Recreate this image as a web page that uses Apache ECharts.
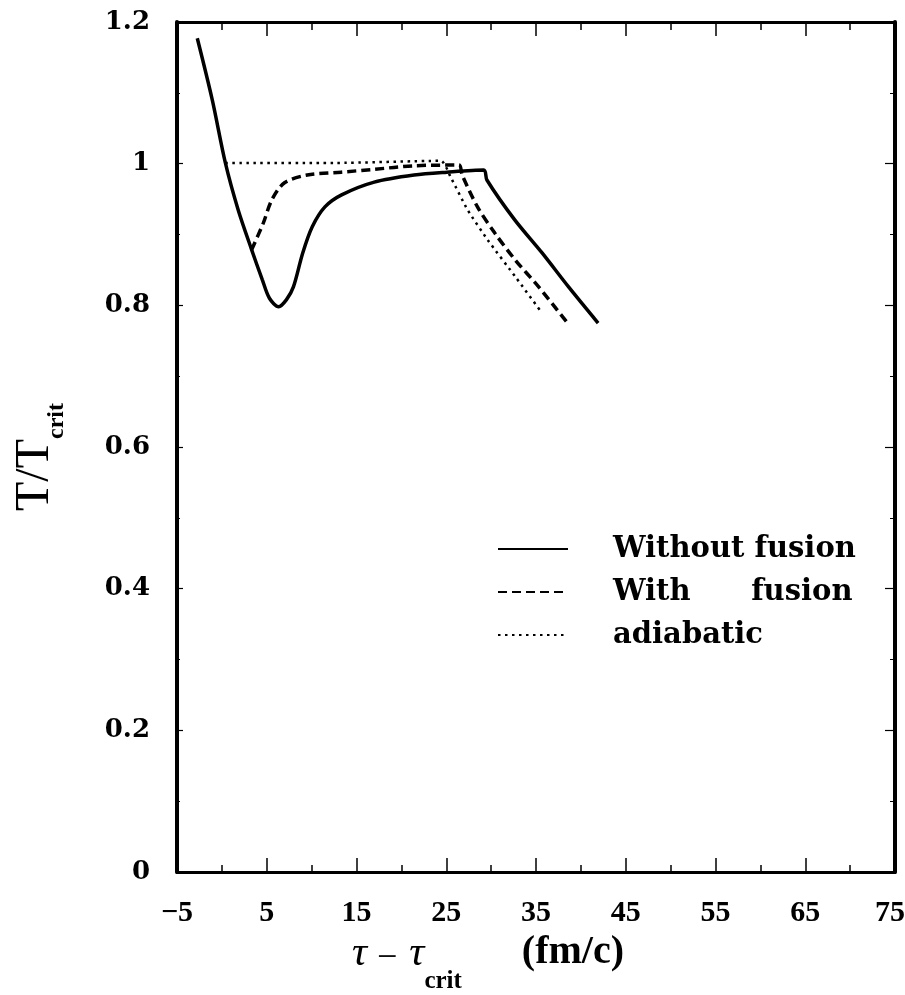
<!DOCTYPE html>
<html>
<head>
<meta charset="utf-8">
<script src="https://cdn.jsdelivr.net/npm/echarts@6/dist/echarts.min.js"></script>
<style>
    html, body { margin: 0; padding: 0; background: #fff; }
    #chart { width: 905px; height: 995px; }
</style>
</head>
<body>
<div id="chart"></div>
<script>
    // [tau - tau_crit (fm/c), T/T_crit]
    const withoutFusion = [
        [-2.74, 1.177], [-1.07, 1.090], [0.39, 1.001], [1.81, 0.935], [3.33, 0.878],
        [4.51, 0.836], [5.30, 0.810], [6.33, 0.798], [7.20, 0.808], [7.97, 0.826],
        [9.01, 0.874], [10.07, 0.911], [11.48, 0.939], [13.34, 0.956], [16.98, 0.974],
        [21.41, 0.984], [25.07, 0.988], [29.18, 0.991], [29.53, 0.977], [32.61, 0.921],
        [35.68, 0.874], [38.63, 0.826], [41.92, 0.775]
    ];
    const withFusion = [
        [3.30, 0.878], [4.61, 0.916], [5.57, 0.949], [6.98, 0.973], [9.52, 0.984],
        [13.29, 0.988], [16.96, 0.992], [21.40, 0.997], [26.40, 0.998], [26.77, 0.984],
        [28.48, 0.939], [30.41, 0.902], [32.69, 0.864], [35.30, 0.826], [38.70, 0.772]
    ];
    const adiabatic = [
        [0.40, 1.001], [12.50, 1.001], [24.39, 1.004], [25.53, 0.980], [27.37, 0.935],
        [29.64, 0.892], [32.72, 0.840], [35.57, 0.791]
    ];
    const seriesNames = ['Without fusion', 'With      fusion', 'adiabatic'];

    const tickFont = {fontFamily: 'Liberation Serif', fontWeight: 'bold', fontSize: 30, color: '#000'};
    const frame = {show: true, onZero: false, lineStyle: {color: '#000', width: 3}};

    let option = {
        animation: false,
        backgroundColor: '#fff',
        color: ['#000'],
        grid: {left: 177, right: 10, top: 22, bottom: 123, containLabel: false, outerBoundsMode: 'none'},
        legend: {
            orient: 'vertical',
            left: 492, top: 527,
            itemWidth: 70, itemHeight: 14, itemGap: 9,
            itemStyle: {opacity: 0},
            textStyle: {
                fontFamily: 'DejaVu Serif', fontWeight: 'bold', fontSize: 29, color: '#000',
                lineHeight: 34, padding: [0, 0, 0, 40]
            },
            data: seriesNames
        },
        xAxis: [
            {
                type: 'value', position: 'bottom',
                min: -5, max: 75, interval: 10,
                name: '{t|τ}{m|−}{t|τ}{sub|crit}{gap|}{u|(fm/c)}',
                nameLocation: 'middle', nameGap: 60,
                nameTextStyle: {
                    padding: [0, 96, 0, 0],
                    rich: {
                        t: {fontFamily: 'Liberation Serif', fontStyle: 'italic', fontSize: 42, lineHeight: 36, verticalAlign: 'top', color: '#000'},
                        m: {fontFamily: 'Liberation Serif', fontSize: 36, lineHeight: 30, padding: [8, 12, 0, 10], verticalAlign: 'top', color: '#000'},
                        sub: {fontFamily: 'Liberation Serif', fontWeight: 'bold', fontSize: 25, lineHeight: 24, padding: [36, 0, 0, 0], verticalAlign: 'top', color: '#000'},
                        gap: {width: 60, lineHeight: 36, verticalAlign: 'top'},
                        u: {fontFamily: 'Liberation Serif', fontWeight: 'bold', fontSize: 40, lineHeight: 36, verticalAlign: 'top', color: '#000'}
                    }
                },
                axisLine: frame,
                axisTick: {inside: true, length: 14, lineStyle: {color: '#000', width: 1.5}},
                minorTick: {show: true, splitNumber: 2, length: 7, lineStyle: {color: '#000', width: 1.5}},
                splitLine: {show: false},
                axisLabel: Object.assign({
                    margin: 26,
                    formatter: v => v === 75 ? '{last|75}' : String(v).replace('-', '−'),
                    rich: {last: Object.assign({padding: [0, 10, 0, 0]}, tickFont)}
                }, tickFont)
            },
            {
                type: 'value', position: 'top',
                min: -5, max: 75, interval: 10,
                axisLine: frame,
                axisTick: {inside: true, length: 14, lineStyle: {color: '#000', width: 1.5}},
                minorTick: {show: true, splitNumber: 2, length: 8, lineStyle: {color: '#000', width: 1.5}},
                splitLine: {show: false},
                axisLabel: {show: false}
            }
        ],
        yAxis: [
            {
                type: 'value', position: 'left',
                min: 0, max: 1.2, interval: 0.2,
                name: '{t|T/T}{sub|crit}',
                nameLocation: 'middle', nameRotate: 90, nameGap: 118,
                nameTextStyle: {
                    padding: [0, 20, 0, 0],
                    rich: {
                        t: {fontFamily: 'Liberation Serif', fontSize: 48, lineHeight: 48, verticalAlign: 'top', color: '#000'},
                        sub: {fontFamily: 'Liberation Serif', fontWeight: 'bold', fontSize: 24, lineHeight: 24, padding: [34, 0, 0, 0], verticalAlign: 'top', color: '#000'}
                    }
                },
                axisLine: {show: true, onZero: false, lineStyle: {color: '#000', width: 4}},
                axisTick: {inside: true, length: 6, lineStyle: {color: '#000', width: 1.2}},
                minorTick: {show: true, splitNumber: 2, length: 3, lineStyle: {color: '#000', width: 1}},
                splitLine: {show: false},
                axisLabel: {margin: 27, fontFamily: 'DejaVu Serif', fontWeight: 'bold', fontSize: 26, color: '#000'}
            },
            {
                type: 'value', position: 'right',
                min: 0, max: 1.2, interval: 0.2,
                axisLine: {show: true, onZero: false, lineStyle: {color: '#000', width: 4}},
                axisTick: {inside: true, length: 10, lineStyle: {color: '#000', width: 1.2}},
                minorTick: {show: true, splitNumber: 2, length: 5, lineStyle: {color: '#000', width: 1}},
                splitLine: {show: false},
                axisLabel: {show: false}
            }
        ],
        series: [
            {
                name: seriesNames[0], type: 'line', xAxisIndex: 0, yAxisIndex: 0,
                smooth: 0.3, symbol: 'none',
                lineStyle: {color: '#000', width: 3.5, type: 'solid'},
                data: withoutFusion
            },
            {
                name: seriesNames[1], type: 'line', xAxisIndex: 0, yAxisIndex: 0,
                smooth: 0.3, symbol: 'none',
                lineStyle: {color: '#000', width: 3.5, type: [9, 5]},
                data: withFusion
            },
            {
                name: seriesNames[2], type: 'line', xAxisIndex: 0, yAxisIndex: 0,
                smooth: 0.2, symbol: 'none',
                lineStyle: {color: '#000', width: 2.5, type: [2.5, 4.5]},
                data: adiabatic
            }
        ]
    };

    let myChart = echarts.init(document.getElementById('chart'));
    myChart.setOption(option);
</script>
</body>
</html>
